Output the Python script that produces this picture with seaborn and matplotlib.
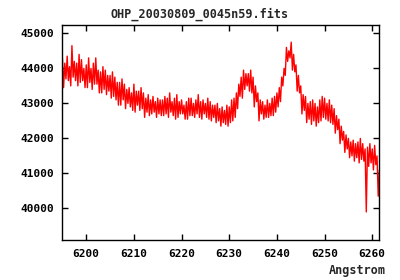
import numpy as np
import pandas as pd
import matplotlib
matplotlib.use("Agg")
import matplotlib.pyplot as plt
import seaborn as sns

TITLE = "OHP_20030809_0045n59.fits"
XLABEL = "Angstrom"
WL_START = 6195.0   # Angstrom, first pixel
WL_STEP = 0.25      # Angstrom per pixel
FLUX = [
    44300, 43450, 44150, 43700, 44350, 43650, 44050, 43500,
    44650, 43750, 44200, 43650, 44150, 43500, 44400, 43600,
    44250, 43650, 44000, 43450, 44100, 43450, 44300, 43600,
    44000, 43400, 44150, 43550, 44300, 43550, 43950, 43300,
    43900, 43300, 44050, 43400, 43950, 43250, 43800, 43350,
    43800, 43150, 43900, 43200, 43750, 43100, 43600, 42950,
    43600, 42950, 43700, 43100, 43550, 42850, 43400, 43000,
    43450, 42900, 43300, 42800, 43550, 42750, 43350, 42950,
    43350, 42800, 43450, 42850, 43300, 42600, 43150, 42750,
    43250, 42650, 43100, 42700, 43200, 42750, 43050, 42600,
    43150, 42700, 43100, 42650, 43100, 42650, 43200, 42700,
    43150, 42600, 43300, 42750, 43050, 42650, 43150, 42550,
    43250, 42600, 43050, 42700, 43100, 42700, 42950, 42550,
    43050, 42550, 43150, 42650, 43150, 42650, 43000, 42600,
    43100, 42700, 43250, 42600, 43050, 42550, 43100, 42700,
    43000, 42600, 43150, 42550, 43050, 42500, 42950, 42600,
    42950, 42450, 43000, 42500, 42850, 42350, 42900, 42450,
    42800, 42400, 42950, 42350, 42900, 42450, 43100, 42500,
    43150, 42600, 43300, 42850, 43550, 43200, 43750, 43150,
    43950, 43400, 43850, 43500, 43850, 43350, 43950, 43300,
    43750, 42900, 43500, 43050, 43300, 42500, 43100, 42700,
    43050, 42550, 42950, 42600, 43100, 42600, 43000, 42650,
    43150, 42650, 43200, 42750, 43300, 42900, 43450, 43050,
    43750, 43500, 44000, 43800, 44600, 44200, 44500, 44300,
    44750, 43950, 44400, 43900, 44100, 43350, 43800, 43300,
    43500, 42700, 43250, 42800, 43200, 42450, 43000, 42550,
    43050, 42400, 43100, 42500, 43000, 42350, 42900, 42450,
    43100, 42500, 43200, 42600, 43150, 42550, 43000, 42500,
    43100, 42450, 42950, 42400, 42850, 42150, 42650, 42250,
    42550, 41850, 42350, 41950, 42200, 41600, 42100, 41700,
    42000, 41450, 41900, 41500, 41950, 41350, 41850, 41450,
    41900, 41300, 42000, 41400, 41850, 41350, 41700, 39900,
    41750, 41200, 41850, 41300, 41700, 41100, 41800, 41250,
    41500, 40350, 41100,
]
XTICKS = [6200, 6210, 6220, 6230, 6240, 6250, 6260]
YTICKS = [40000, 41000, 42000, 43000, 44000, 45000]

df = pd.DataFrame({"flux": FLUX})
df["wl"] = WL_START + WL_STEP * np.arange(len(FLUX))

sns.set_style("ticks")
plt.rcParams["font.family"] = ["DejaVu Sans Mono"]
plt.rcParams["font.weight"] = "bold"

fig = plt.figure(figsize=(4, 2.8), dpi=100)
ax = fig.add_axes([0.156, 0.1418, 0.7925, 0.769])
sns.lineplot(data=df, x="wl", y="flux", color="red", lw=1, ax=ax)
ax.set_xlim(6195.0, 6261.5)
ax.set_ylim(39090, 45240)
ax.set_xticks(XTICKS)
ax.set_yticks(YTICKS)
ax.tick_params(direction="in", top=True, right=True, length=4, width=1,
               labelsize=8, colors="black", pad=6)
for s in ax.spines.values():
    s.set_visible(True)
    s.set_color("black")
    s.set_linewidth(1)
ax.set_xlabel("")
ax.set_ylabel("")
fig.text(0.5, 0.95, TITLE, ha="center", va="center", fontsize=8.5, weight="bold")
fig.text(0.965, 0.035, XLABEL, ha="right", va="center", fontsize=8.5, weight="bold")
fig.savefig("out.png", dpi=100)
